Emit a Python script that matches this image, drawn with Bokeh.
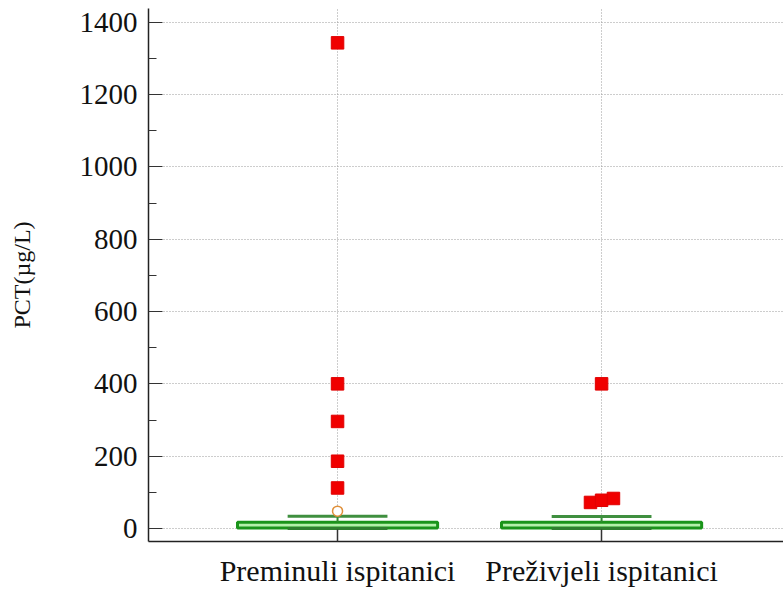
from bokeh.plotting import figure
from bokeh.models import Range1d, FixedTicker, ColumnDataSource
from bokeh.embed import file_html
from bokeh.resources import INLINE

# ---- data ----
categories = ["Preminuli ispitanici", "Preživjeli ispitanici"]
whisker_low = [0, 0]
q1 = [1, 1]
median = [5, 5]
q3 = [17, 17]
whisker_high = [34, 33]
outside_values = [[48], []]
far_out_values = [[112, 186, 296, 400, 1343], [72, 78, 83, 400]]
y_ticks = [0, 200, 400, 600, 800, 1000, 1200, 1400]
y_label = "PCT(µg/L)"

# display-only horizontal offsets for overlapping markers
far_out_offsets = [[0, 0, 0, 0, 0], [-0.042, 0.0, 0.045, 0.0]]

FONT = "Liberation Serif"
BOX_HALF = 0.379
CAP_HALF = 0.189

xs = list(range(1, len(categories) + 1))

p = figure(width=783, height=589, output_backend="svg", toolbar_location=None,
           x_range=Range1d(0.284, 2.689), y_range=Range1d(-36, 1438),
           min_border_left=148, min_border_right=0, min_border_top=8,
           min_border_bottom=45)
p.outline_line_color = None
p.background_fill_color = "white"
p.border_fill_color = "white"

# grid
p.xgrid.ticker = FixedTicker(ticks=xs)
p.ygrid.ticker = FixedTicker(ticks=y_ticks)
for g in (p.xgrid, p.ygrid):
    g.grid_line_color = "#9a9a9a"
    g.grid_line_dash = "1 2"
    g.grid_line_width = 1

# boxes
box_src = ColumnDataSource(dict(
    left=[x - BOX_HALF for x in xs], right=[x + BOX_HALF for x in xs],
    bottom=q1, top=q3))
p.quad(left="left", right="right", bottom="bottom", top="top", source=box_src,
       fill_color="#b4f0aa", line_color="#1a941a", line_width=3)

# whiskers
p.segment(x0=xs, y0=q3, x1=xs, y1=whisker_high, line_color="#2f8a2f", line_width=2)
p.segment(x0=xs, y0=whisker_low, x1=xs, y1=q1, line_color="#2f8a2f", line_width=2)
p.segment(x0=[x - CAP_HALF for x in xs], y0=whisker_high,
          x1=[x + CAP_HALF for x in xs], y1=whisker_high,
          line_color="#3f8f3f", line_width=3)
p.segment(x0=[x - CAP_HALF for x in xs], y0=whisker_low,
          x1=[x + CAP_HALF for x in xs], y1=whisker_low,
          line_color="#2f7f2f", line_width=3)

# outside values (circles)
ox, oy = [], []
for x, vals in zip(xs, outside_values):
    for v in vals:
        ox.append(x)
        oy.append(v)
p.scatter(ox, oy, marker="circle", size=10, fill_color="white",
          line_color="#e0903a", line_width=1.5)

# far-out values (red squares)
fx, fy = [], []
for x, vals, offs in zip(xs, far_out_values, far_out_offsets):
    for v, o in zip(vals, offs):
        fx.append(x + o)
        fy.append(v)
p.scatter(fx, fy, marker="square", size=12.5, fill_color="#f00000",
          line_color="#e00000", line_width=1)

# axes
xa = p.xaxis[0]
xa.ticker = FixedTicker(ticks=xs)
xa.major_label_overrides = {x: c for x, c in zip(xs, categories)}
xa.major_tick_in = 12
xa.major_tick_out = 0
xa.minor_tick_line_color = None
xa.major_label_standoff = 12
xa.major_label_text_font = FONT
xa.major_label_text_font_size = "30px"
xa.major_label_text_color = "#111111"
xa.axis_line_color = "#222222"
xa.axis_line_width = 1.5
xa.major_tick_line_color = "#333333"
xa.major_tick_line_width = 1.5

ya = p.yaxis[0]
ya.ticker = FixedTicker(ticks=y_ticks, minor_ticks=[100, 300, 500, 700, 900, 1100, 1300])
ya.major_tick_in = 14
ya.major_tick_out = 0
ya.minor_tick_in = 8
ya.minor_tick_out = 0
ya.major_label_standoff = 11
ya.major_label_text_font = FONT
ya.major_label_text_font_size = "29px"
ya.major_label_text_color = "#111111"
ya.axis_line_color = "#222222"
ya.axis_line_width = 1.5
ya.major_tick_line_color = "#333333"
ya.minor_tick_line_color = "#333333"
ya.axis_label = y_label
ya.axis_label_text_font = FONT
ya.axis_label_text_font_size = "24px"
ya.axis_label_text_font_style = "normal"
ya.axis_label_text_color = "#111111"
ya.axis_label_standoff = 42

open("out.html", "w").write(file_html(p, INLINE))
